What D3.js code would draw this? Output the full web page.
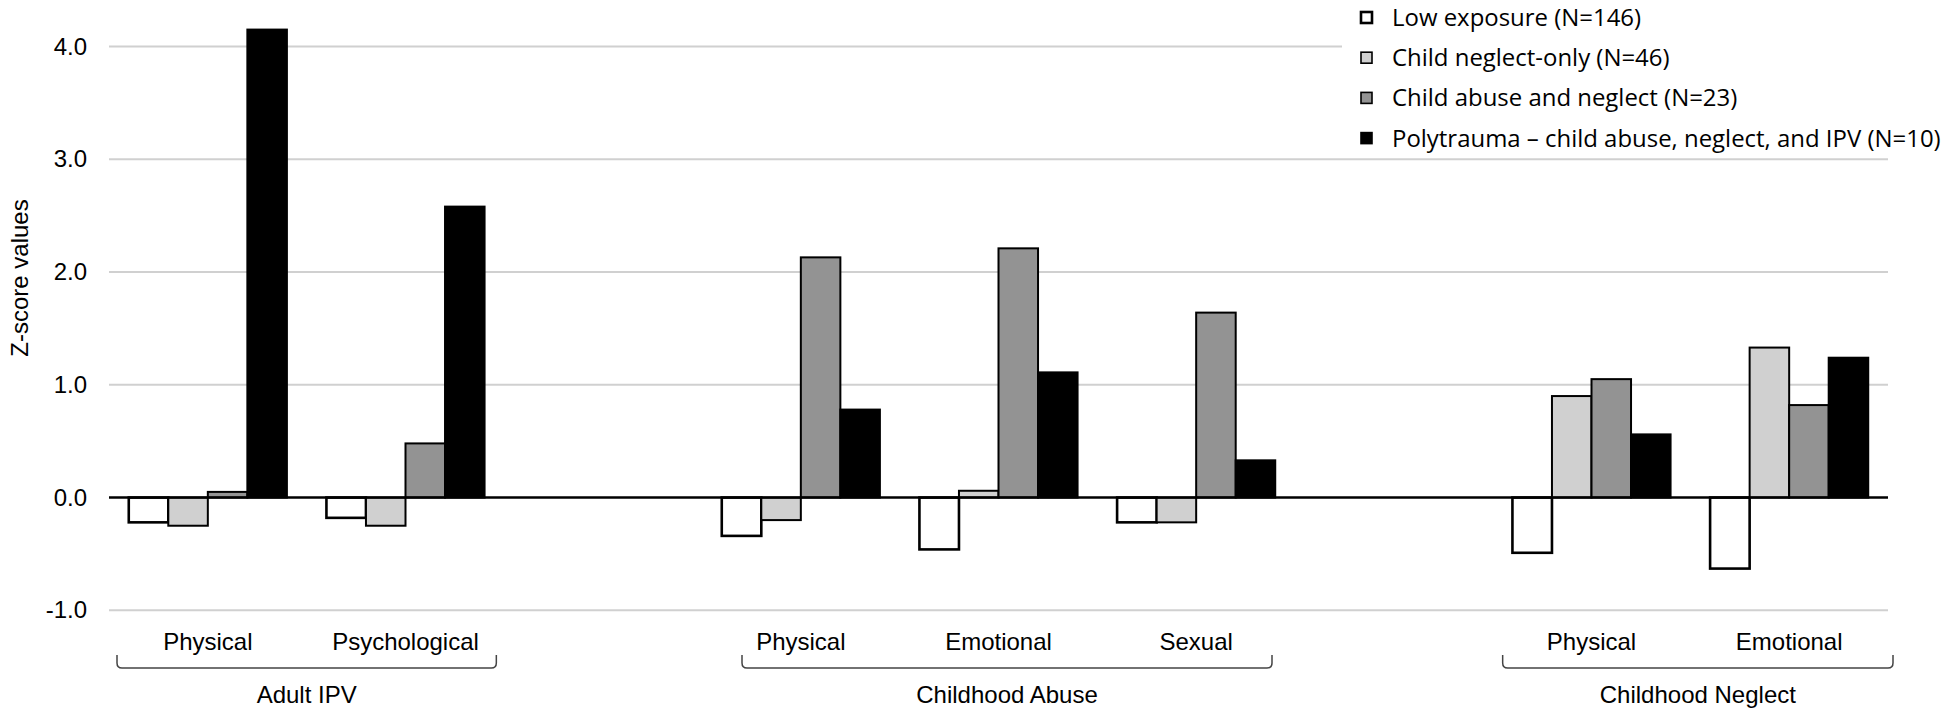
<!DOCTYPE html>
<html>
<head>
<meta charset="utf-8">
<script src="https://cdn.jsdelivr.net/npm/d3@7/dist/d3.min.js"></script>
<style>
  html, body { margin: 0; padding: 0; background: #fff; }
  svg { display: block; }
</style>
</head>
<body>
<svg id="chart" width="1950" height="711"></svg>
<script>
// ---------------- DATA ----------------
const categories = ["Physical", "Psychological", "", "Physical", "Emotional", "Sexual", "", "Physical", "Emotional"];
const seriesNames = [
  "Low exposure (N=146)",
  "Child neglect-only (N=46)",
  "Child abuse and neglect (N=23)",
  "Polytrauma \u2013 child abuse, neglect, and IPV (N=10)"
];
const lowExposure  = [-0.22, -0.18, null, -0.34, -0.46, -0.22, null, -0.49, -0.63];
const neglectOnly  = [-0.25, -0.25, null, -0.20,  0.06, -0.22, null,  0.90,  1.33];
const abuseNeglect = [ 0.05,  0.48, null,  2.13,  2.21,  1.64, null,  1.05,  0.82];
const polytrauma   = [ 4.15,  2.58, null,  0.78,  1.11,  0.33, null,  0.56,  1.24];
const yTicks = [-1.0, 0.0, 1.0, 2.0, 3.0, 4.0];
const groupNames = ["Adult IPV", "Childhood Abuse", "Childhood Neglect"];
const groupFirst = [0, 3, 7];
const groupLast  = [1, 5, 8];
const yTitle = "Z-score values";

// ---------------- LAYOUT ----------------
const seriesValues = [lowExposure, neglectOnly, abuseNeglect, polytrauma];
const seriesFill = ["#ffffff", "#d0d0d0", "#939393", "#000000"];
const bracketInset = [[8, 8], [40, 23], [10, -5]];

const svg = d3.select("#chart");
const plotLeft = 109, plotRight = 1888;

const x0 = d3.scaleBand()
  .domain(categories.map((d, i) => i))
  .range([plotLeft, plotRight])
  .paddingInner(0).paddingOuter(0);
const x1 = d3.scaleBand()
  .domain(d3.range(seriesNames.length))
  .range([0, x0.bandwidth()])
  .paddingInner(0).paddingOuter(0.5);
const y = d3.scaleLinear().domain([-1, 4]).range([610.3, 46.5]);

const axisFont = "'Liberation Sans', Arial, sans-serif";

// gridlines
svg.append("g").selectAll("line")
  .data(yTicks.filter(t => t !== 0))
  .join("line")
  .attr("x1", plotLeft).attr("x2", plotRight)
  .attr("y1", d => y(d)).attr("y2", d => y(d))
  .attr("stroke", "#d0d0d0").attr("stroke-width", 2);

// y axis labels
const yAxis = d3.axisLeft(y).tickValues(yTicks).tickFormat(d => d.toFixed(1)).tickSize(0).tickPadding(22);
const yg = svg.append("g").attr("transform", `translate(${plotLeft},0)`).call(yAxis);
yg.select(".domain").remove();
yg.selectAll("text")
  .attr("font-family", axisFont).attr("font-size", 24).attr("fill", "#000");

// y title
svg.append("text")
  .attr("transform", "translate(28,278) rotate(-90)")
  .attr("text-anchor", "middle")
  .attr("font-family", axisFont).attr("font-size", 24)
  .text(yTitle);

// bars
const barData = [];
categories.forEach((c, i) => {
  seriesValues.forEach((vals, s) => {
    if (vals[i] !== null && vals[i] !== undefined) barData.push({ i, s, v: vals[i] });
  });
});
svg.append("g").selectAll("rect")
  .data(barData)
  .join("rect")
  .attr("x", d => x0(d.i) + x1(d.s))
  .attr("width", x1.bandwidth())
  .attr("y", d => Math.min(y(d.v), y(0)))
  .attr("height", d => Math.abs(y(d.v) - y(0)))
  .attr("fill", d => seriesFill[d.s])
  .attr("stroke", "#000")
  .attr("stroke-width", d => d.s === 0 ? 2.6 : 2);

// zero line
svg.append("line")
  .attr("x1", plotLeft).attr("x2", plotRight)
  .attr("y1", y(0)).attr("y2", y(0))
  .attr("stroke", "#000").attr("stroke-width", 2.6);

// category labels
svg.append("g").selectAll("text")
  .data(categories.map((c, i) => ({ c, i })).filter(d => d.c !== ""))
  .join("text")
  .attr("x", d => x0(d.i) + x0.bandwidth() / 2)
  .attr("y", 650)
  .attr("text-anchor", "middle")
  .attr("font-family", axisFont).attr("font-size", 24)
  .text(d => d.c);

// brackets + group labels
const bracketY = 668, tipY = 655, r = 5;
groupNames.forEach((g, k) => {
  const xa = x0(groupFirst[k]) + bracketInset[k][0];
  const xb = x0(groupLast[k]) + x0.bandwidth() - bracketInset[k][1];
  const p = d3.path();
  p.moveTo(xa, tipY);
  p.lineTo(xa, bracketY - r);
  p.quadraticCurveTo(xa, bracketY, xa + r, bracketY);
  p.lineTo(xb - r, bracketY);
  p.quadraticCurveTo(xb, bracketY, xb, bracketY - r);
  p.lineTo(xb, tipY);
  svg.append("path").attr("d", p.toString())
    .attr("fill", "none").attr("stroke", "#444").attr("stroke-width", 1.5);
  svg.append("text")
    .attr("x", (xa + xb) / 2).attr("y", 703)
    .attr("text-anchor", "middle")
    .attr("font-family", axisFont).attr("font-size", 24)
    .text(g);
});

// legend
const legendFont = "'Open Sans', 'Noto Sans', sans-serif";
svg.append("rect").attr("x", 1342).attr("y", 0).attr("width", 608).attr("height", 150).attr("fill", "#fff");
const lg = svg.append("g");
const rows = lg.selectAll("g").data(seriesNames).join("g")
  .attr("transform", (d, i) => `translate(0,${26 + i * 40.2})`);
rows.append("rect")
  .attr("x", 1361).attr("y", -14).attr("width", 11).attr("height", 11)
  .attr("fill", (d, i) => seriesFill[i])
  .attr("stroke", "#000").attr("stroke-width", (d, i) => i === 0 ? 2.6 : 1.6);
const lt = rows.append("text")
  .attr("x", 1392).attr("y", 0)
  .attr("font-family", legendFont).attr("font-size", 22)
  .text(d => d);
// fit legend font so the longest entry matches the reference width
let maxLen = 0;
lt.each(function() { maxLen = Math.max(maxLen, this.getComputedTextLength()); });
const fs = Math.max(18, Math.min(26, 22 * 549 / maxLen));
lt.attr("font-size", fs);
</script>
</body>
</html>
